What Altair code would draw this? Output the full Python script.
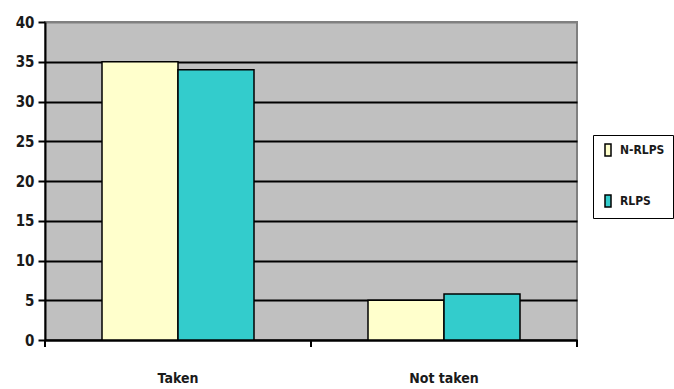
import altair as alt
import pandas as pd

categories = ["Taken", "Not taken"]
series = ["N-RLPS", "RLPS"]
n_rlps = [35, 5]
rlps = [34, 5.8]
colors = ["#FFFFCC", "#33CCCC"]

rows = []
for i, cat in enumerate(categories):
    rows.append({"cat": cat, "group": series[0], "value": n_rlps[i]})
    rows.append({"cat": cat, "group": series[1], "value": rlps[i]})
df = pd.DataFrame(rows)

COND = "DejaVu Sans Condensed"
PLOT_H = 318
TEXT = "#1a1a1a"

x_scale = alt.Scale(domain=categories, paddingInner=0, paddingOuter=0)

bars = alt.Chart(df).mark_bar(stroke="black", strokeWidth=1.5).encode(
    x=alt.X("cat:N", scale=x_scale, sort=categories, title=None,
            axis=alt.Axis(labelAngle=0, ticks=False, domain=True, domainColor="black",
                          domainWidth=2, labelFont=COND, labelFontWeight="bold",
                          labelFontSize=14, labelColor=TEXT, labelPadding=31)),
    xOffset=alt.XOffset("group:N", sort=series,
                        scale=alt.Scale(paddingOuter=0.75, paddingInner=0)),
    y=alt.Y("value:Q", title=None,
            scale=alt.Scale(domain=[0, 40], nice=False),
            axis=alt.Axis(values=list(range(0, 41, 5)), tickSize=7, tickColor="black",
                          tickWidth=2, domainColor="black", domainWidth=2,
                          gridColor=alt.condition(alt.datum.value == 40,
                                                  alt.value("#808080"), alt.value("black")),
                          gridWidth=2, labelFont=COND, labelFontWeight="bold",
                          labelFontSize=15, labelColor=TEXT, labelPadding=4)),
    color=alt.Color("group:N", sort=series,
                    scale=alt.Scale(domain=series, range=colors),
                    legend=alt.Legend(title=None, orient="none", legendX=548, legendY=113,
                                      direction="vertical",
                                      symbolType="M-0.5,-1L0.5,-1L0.5,1L-0.5,1Z",
                                      symbolSize=144, symbolStrokeColor="black",
                                      symbolStrokeWidth=1.5, labelFont=COND,
                                      labelFontWeight="bold", labelFontSize=12,
                                      labelColor=TEXT, rowPadding=33,
                                      strokeColor="black", fillColor="white",
                                      padding=8, labelOffset=5)),
)

# category boundary ticks below the baseline
tick_start = alt.Chart(pd.DataFrame({"cat": categories})).mark_rule(
    color="black", strokeWidth=2).encode(
    x=alt.X("cat:N", scale=x_scale, sort=categories, bandPosition=0),
    y=alt.value(PLOT_H), y2=alt.value(PLOT_H + 7),
)
tick_end = alt.Chart(pd.DataFrame({"cat": categories[-1:]})).mark_rule(
    color="black", strokeWidth=2).encode(
    x=alt.X("cat:N", scale=x_scale, sort=categories, bandPosition=1),
    y=alt.value(PLOT_H), y2=alt.value(PLOT_H + 7),
)

chart = alt.layer(bars, tick_start, tick_end).properties(
    width=532, height=PLOT_H,
    autosize=alt.AutoSizeParams(type="none"),
    padding={"left": 45, "top": 22, "right": 97, "bottom": 49},
    background="white",
).configure_view(
    fill="#C0C0C0", stroke="#808080", strokeWidth=2
)

chart.save("out.html", embed_options={"renderer": "svg", "actions": False})
